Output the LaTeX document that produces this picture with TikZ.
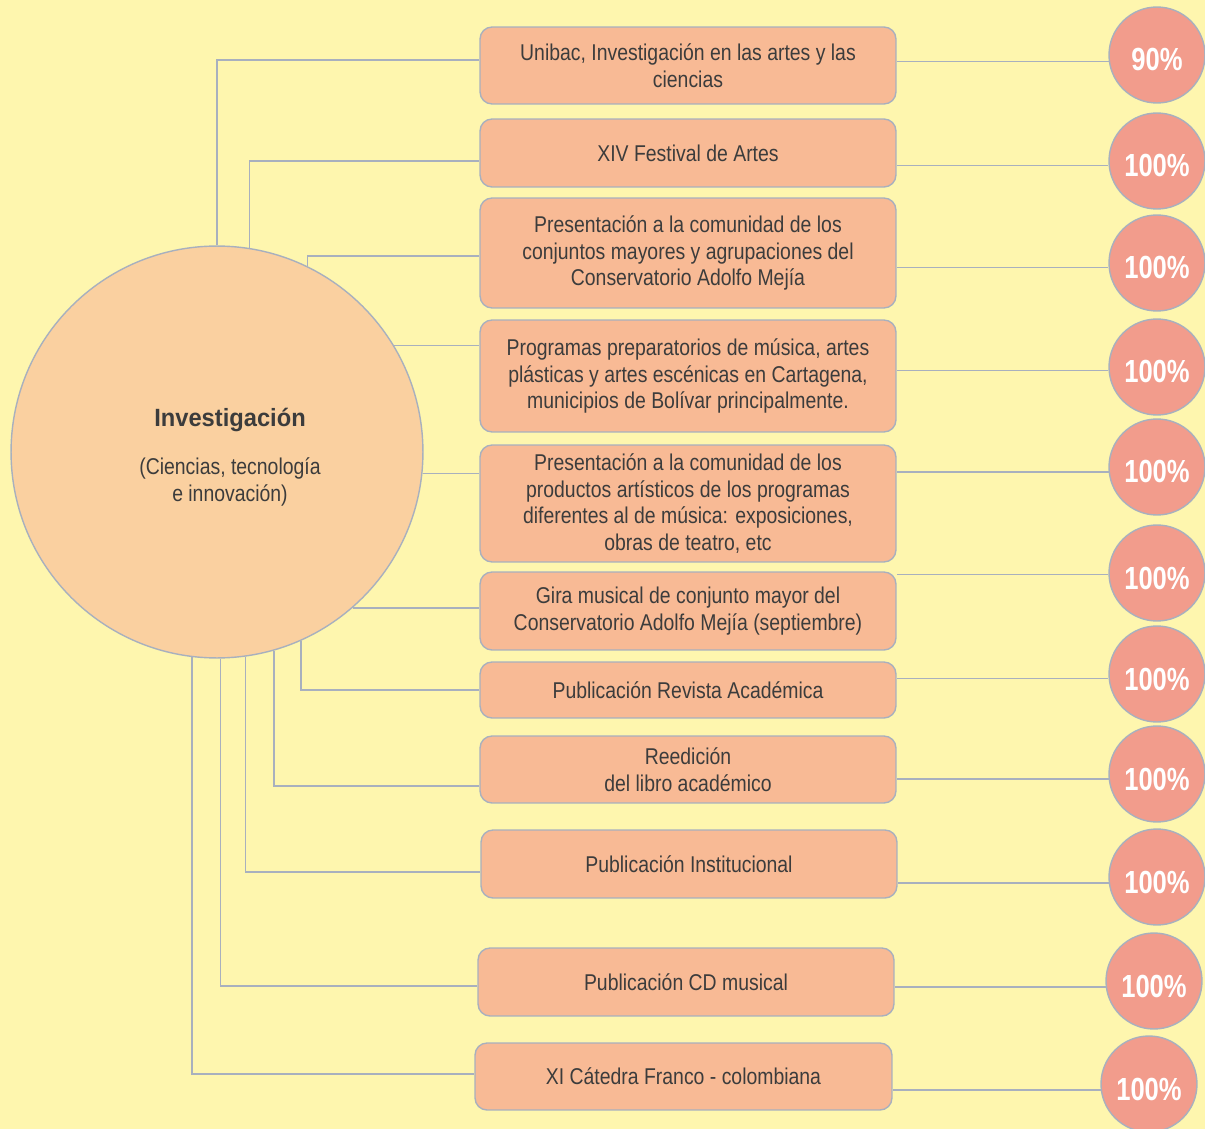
\documentclass[tikz,border=0pt]{standalone}
\usepackage{fontspec}
\setmainfont{Liberation Sans}[FakeStretch=0.85]
\newfontfamily\headfont{Liberation Sans}[FakeStretch=0.95]
\newfontfamily\pctfont{Liberation Sans}[FakeStretch=0.80]

\definecolor{bgyellow}{RGB}{254,246,174}
\definecolor{invfill}{RGB}{250,208,160}
\definecolor{boxfill}{RGB}{248,186,149}
\definecolor{pctfill}{RGB}{242,156,140}
\definecolor{linegray}{RGB}{168,176,190}
\definecolor{txtgray}{RGB}{60,60,60}

\begin{document}
\begin{tikzpicture}[
  x=0.02cm, y=-0.02cm,
  font=\fontsize{13}{15.3}\selectfont,
  text=txtgray,
  act/.style={draw=linegray, line width=0.8pt, fill=boxfill, rounded corners=0.24cm, minimum width=8.32cm, align=center, inner sep=2pt},
  pct/.style={circle, draw=linegray, line width=0.8pt, fill=pctfill, minimum size=1.92cm, inner sep=0pt, text height=0.64cm, text depth=0pt, text=white, font=\pctfont\bfseries\fontsize{18.2}{20}\selectfont},
  inv/.style={circle, draw=linegray, line width=0.8pt, fill=invfill, minimum size=8.24cm},
  link/.style={draw=linegray, line width=0.8pt}
]

% page and background
\useasboundingbox (0,0) rectangle (1205,1129);
\fill[bgyellow] (0,0) rectangle (1205,1129);

% central circle
\node[inv] (inv) at (217,452) {};
\node[align=center] (invlbl) at (230,457) {%
  {\headfont\bfseries\fontsize{14.2}{16}\selectfont Investigación}\\[0.42cm]
  (Ciencias, tecnología\\
  e innovación)};

% activities
\node[act, minimum height=1.54cm] (a1) at (688,65.5) {Unibac, Investigación en las artes y las\\ciencias};
\node[act, minimum height=1.36cm] (a2) at (688,153) {XIV Festival de Artes};
\node[act, minimum height=2.2cm] (a3) at (688,253) {Presentación a la comunidad de los\\conjuntos mayores y agrupaciones del\\Conservatorio Adolfo Mejía};
\node[act, minimum height=2.24cm] (a4) at (688,376) {Programas preparatorios de música, artes\\plásticas y artes escénicas en Cartagena,\\municipios de Bolívar principalmente.};
\node[act, minimum height=2.34cm] (a5) at (688,503.5) {Presentación a la comunidad de los\\productos artísticos de los programas\\diferentes al de música: exposiciones,\\obras de teatro, etc};
\node[act, minimum height=1.56cm] (a6) at (688,611) {Gira musical de conjunto mayor del\\Conservatorio Adolfo Mejía (septiembre)};
\node[act, minimum height=1.12cm] (a7) at (688,690) {Publicación Revista Académica};
\node[act, minimum height=1.34cm] (a8) at (688,769.5) {Reedición\\del libro académico};
\node[act, minimum height=1.36cm] (a9) at (689,864) {Publicación Institucional};
\node[act, minimum height=1.36cm] (a10) at (686,982) {Publicación CD musical};
\node[act, minimum height=1.34cm, minimum width=8.34cm] (a11) at (683.5,1076.5) {XI Cátedra Franco - colombiana};

% percentages
\node[pct] (p1) at (1157,55) {90\%};
\node[pct] (p2) at (1157,161) {100\%};
\node[pct] (p3) at (1157,263) {100\%};
\node[pct] (p4) at (1157,367) {100\%};
\node[pct] (p5) at (1157,467) {100\%};
\node[pct] (p6) at (1157,573) {100\%};
\node[pct] (p7) at (1157,674) {100\%};
\node[pct] (p8) at (1157,774) {100\%};
\node[pct] (p9) at (1157,877) {100\%};
\node[pct] (p10) at (1154,981) {100\%};
\node[pct] (p11) at (1149,1084) {100\%};

% circle to activities
\draw[link] (inv.90) |- ([yshift=0.11cm]a1.west);
\draw[link] (inv.81) |- ([yshift=-0.16cm]a2.west);
\draw[link] (inv.64) |- ([yshift=-0.06cm]a3.west);
\draw[link] (inv.31) -- (inv.31 -| a4.west);
\draw[link] (inv.-6.4) -- (inv.-6.4 -| a5.west);
\draw[link] (inv.-49) -- (inv.-49 -| a6.west);
\draw[link] (inv.-66) |- (a7.west);
\draw[link] (inv.-74) |- ([yshift=-0.33cm]a8.west);
\draw[link] (inv.-82) |- ([yshift=-0.16cm]a9.west);
\draw[link] (inv.-89.4) |- ([yshift=-0.08cm]a10.west);
\draw[link] (inv.-97.5) |- ([yshift=0.05cm]a11.west);

% activities to percentages
\draw[link] (p1.188) -- (p1.188 -| a1.east);
\draw[link] (p2.185) -- (p2.185 -| a2.east);
\draw[link] (p3.185) -- (p3.185 -| a3.east);
\draw[link] (p4.184) -- (p4.184 -| a4.east);
\draw[link] (p5.186) -- (p5.186 -| a5.east);
\draw[link] (p6.182) -- (p6.182 -| a6.east);
\draw[link] (p7.185) -- (p7.185 -| a7.east);
\draw[link] (p8.186) -- (p8.186 -| a8.east);
\draw[link] (p9.187) -- (p9.187 -| a9.east);
\draw[link] (p10.187) -- (p10.187 -| a10.east);
\draw[link] (p11.187) -- (p11.187 -| a11.east);

\end{tikzpicture}
\end{document}
